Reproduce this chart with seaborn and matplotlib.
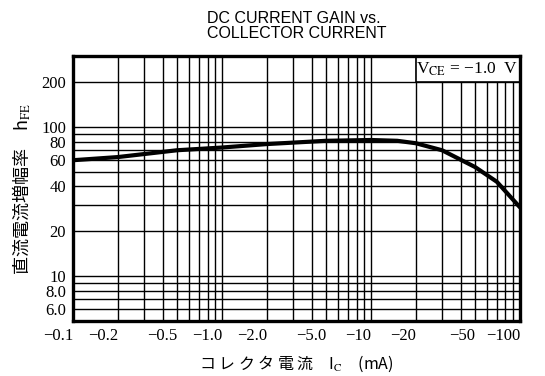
import matplotlib
matplotlib.use("Agg")
import matplotlib.pyplot as plt
from matplotlib.patches import Rectangle
import seaborn as sns
import pandas as pd

# curva (valor absoluto de Ic en mA)
ic_ma = [0.1, 0.2, 0.5, 1.0, 2.0, 5.0, 10, 15, 20, 30, 50, 70, 100]
hfe = [60, 63, 70, 73, 77, 81, 82, 81, 78, 70, 54, 43, 29]

xticks = [0.1, 0.2, 0.5, 1.0, 2.0, 5.0, 10, 20, 50, 100]
xlabels = ["−0.1", "−0.2", "−0.5", "−1.0", "−2.0", "−5.0", "−10", "−20", "−50", "−100"]
yticks = [6, 8, 10, 20, 40, 60, 80, 100, 200]
ylabels = ["6.0", "8.0", "10", "20", "40", "60", "80", "100", "200"]
xgrid = [0.2, 0.3, 0.4, 0.5, 0.6, 0.7, 0.8, 0.9, 1, 2, 3, 4, 5, 6, 7, 8, 9, 10,
         20, 30, 40, 50, 60, 70, 80, 90]
ygrid = [6, 7, 8, 9, 10, 20, 30, 40, 50, 60, 70, 80, 90, 100, 200]

sns.set_theme(style="white")
plt.rcParams["font.family"] = ["Liberation Serif", "Noto Sans CJK JP", "DejaVu Sans"]
plt.rcParams["mathtext.fontset"] = "stix"
plt.rcParams["text.color"] = "black"
plt.rcParams["axes.labelcolor"] = "black"

df = pd.DataFrame({"ic": ic_ma, "hfe": hfe})

fig = plt.figure(figsize=(5.45, 3.76), dpi=100)
ax = fig.add_axes([0.134, 0.146, 0.820, 0.705])

for g in xgrid:
    ax.axvline(g, color="black", lw=1.0, zorder=1)
for g in ygrid:
    ax.axhline(g, color="black", lw=1.0, zorder=1)

sns.lineplot(data=df, x="ic", y="hfe", ax=ax, color="black", lw=3.0, zorder=3)

ax.set_xscale("log")
ax.set_yscale("log")
ax.set_xlim(0.1, 100)
ax.set_ylim(5, 300)
ax.minorticks_off()
ax.set_xticks(xticks)
ax.set_xticklabels(xlabels, ha="right")
ax.set_yticks(yticks)
ax.set_yticklabels(ylabels)
ax.tick_params(axis="both", labelsize=12, colors="black", labelcolor="black",
               length=3, width=1, direction="out", pad=2)
ax.tick_params(axis="x", length=0, pad=5)
for s in ax.spines.values():
    s.set_linewidth(2.4)
    s.set_color("black")
    s.set_zorder(5)

# caja con la condicion de medida
ax.add_patch(Rectangle((20, 200), 80, 100, facecolor="white", edgecolor="black",
                       lw=1.2, zorder=4))
ax.text(44, 245, r"V$_{\rm CE}$ = −1.0  V", ha="center", va="center",
        fontsize=12.5, color="black", zorder=6)

ax.set_xlabel(r"コ レ ク タ 電 流　I$_{\rm C}$　(mA)", fontsize=11.5, labelpad=7,
              color="black", family=["Noto Sans CJK JP", "Liberation Serif"])
ax.set_ylabel(r"直流電流増幅率　h$_{\rm FE}$", fontsize=13, labelpad=6,
              color="black", family=["Noto Sans CJK JP", "Liberation Serif"])

fig.text(0.545, 0.89, "DC CURRENT GAIN vs.\nCOLLECTOR CURRENT", ha="center",
         va="bottom", multialignment="left", fontsize=11.5, color="black",
         family="Liberation Sans", linespacing=1.0)

fig.savefig("out.png", dpi=100, facecolor="white")
